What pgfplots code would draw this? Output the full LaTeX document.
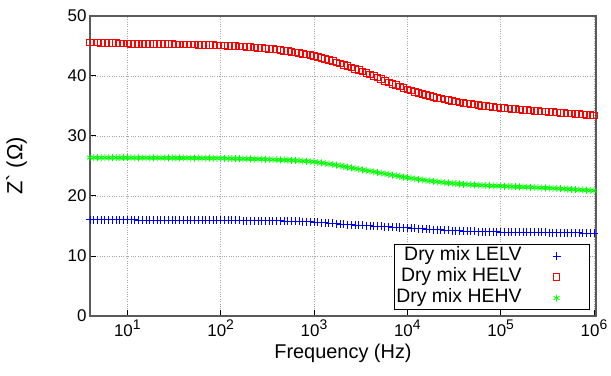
\documentclass[border=0pt]{standalone}
\usepackage{pgfplots}
\pgfplotsset{compat=1.18}
\usepackage{pgfplotstable}
\usepackage{fontspec}
\setmainfont{Liberation Sans}
\definecolor{cblue}{RGB}{0,0,255}
\definecolor{cred}{RGB}{255,0,0}
\definecolor{cgreen}{RGB}{0,255,0}
\definecolor{frame}{RGB}{90,90,90}
\newcommand\pw[1]{10\raisebox{0.45em}{\fontsize{14}{14}\selectfont #1}}

\pgfplotstableread{
f lelv helv hehv
3.9811 16.00 45.60 26.40
4.3652 16.00 45.58 26.40
4.7863 16.00 45.56 26.39
5.2481 16.00 45.54 26.39
5.7544 16.00 45.52 26.39
6.3096 16.00 45.50 26.39
6.9183 16.00 45.48 26.39
7.5858 16.00 45.46 26.39
8.3176 16.00 45.44 26.38
9.1201 16.00 45.42 26.38
10 16.00 45.40 26.38
10.965 16.00 45.39 26.38
12.023 16.00 45.38 26.37
13.183 15.99 45.38 26.37
14.454 15.99 45.37 26.37
15.849 15.99 45.36 26.37
17.378 15.99 45.35 26.36
19.055 15.99 45.34 26.36
20.893 15.98 45.33 26.36
22.909 15.98 45.33 26.36
25.119 15.98 45.32 26.36
27.542 15.98 45.31 26.35
30.200 15.98 45.30 26.35
33.113 15.97 45.29 26.35
36.308 15.97 45.29 26.34
39.811 15.97 45.28 26.34
43.652 15.97 45.26 26.33
47.863 15.97 45.24 26.32
52.481 15.96 45.23 26.32
57.544 15.96 45.21 26.31
63.096 15.96 45.19 26.31
69.183 15.96 45.17 26.30
75.858 15.96 45.15 26.30
83.176 15.95 45.14 26.29
91.201 15.95 45.12 26.29
100 15.95 45.10 26.28
109.65 15.94 45.07 26.27
120.23 15.94 45.04 26.25
131.83 15.93 45.01 26.24
144.54 15.93 44.98 26.23
158.49 15.92 44.95 26.22
173.78 15.91 44.90 26.20
190.55 15.91 44.86 26.19
208.93 15.90 44.81 26.18
229.09 15.90 44.77 26.16
251.19 15.89 44.72 26.15
275.42 15.89 44.66 26.13
302.00 15.88 44.59 26.11
331.13 15.87 44.53 26.09
363.08 15.86 44.46 26.07
398.11 15.85 44.40 26.05
436.52 15.84 44.31 26.02
478.63 15.83 44.22 26.00
524.81 15.82 44.13 25.97
575.44 15.81 44.04 25.95
630.96 15.80 43.95 25.92
691.83 15.77 43.83 25.88
758.58 15.74 43.71 25.83
831.76 15.71 43.59 25.79
912.01 15.68 43.47 25.74
1000 15.65 43.35 25.70
1096.5 15.60 43.18 25.61
1202.3 15.56 43.01 25.52
1318.3 15.51 42.84 25.43
1445.4 15.47 42.67 25.34
1584.9 15.42 42.50 25.25
1737.8 15.38 42.29 25.14
1905.5 15.33 42.08 25.03
2089.3 15.29 41.87 24.92
2290.9 15.24 41.66 24.81
2511.9 15.20 41.45 24.70
2754.2 15.16 41.21 24.59
3020.0 15.13 40.97 24.48
3311.3 15.09 40.73 24.37
3630.8 15.06 40.49 24.26
3981.1 15.02 40.25 24.15
4365.2 14.99 39.99 24.04
4786.3 14.95 39.73 23.93
5248.1 14.92 39.47 23.82
5754.4 14.88 39.21 23.71
6309.6 14.85 38.95 23.60
6918.3 14.82 38.71 23.49
7585.8 14.78 38.47 23.38
8317.6 14.75 38.23 23.27
9120.1 14.71 37.99 23.16
10000 14.68 37.75 23.05
10965 14.64 37.56 22.96
12023 14.60 37.37 22.87
13183 14.56 37.18 22.78
14454 14.52 36.99 22.69
15849 14.48 36.80 22.60
17378 14.44 36.66 22.52
19055 14.41 36.52 22.45
20893 14.37 36.38 22.37
22909 14.34 36.24 22.30
25119 14.30 36.10 22.22
27542 14.27 35.98 22.17
30200 14.24 35.86 22.11
33113 14.21 35.74 22.06
36308 14.18 35.62 22.00
39811 14.15 35.50 21.95
43652 14.13 35.41 21.92
47863 14.11 35.32 21.88
52481 14.09 35.23 21.85
57544 14.07 35.14 21.81
63096 14.05 35.05 21.78
69183 14.04 34.98 21.75
75858 14.03 34.91 21.73
83176 14.02 34.84 21.70
91201 14.01 34.77 21.68
1.0000e5 14.00 34.70 21.65
1.0965e5 13.99 34.64 21.62
1.2023e5 13.99 34.58 21.60
1.3183e5 13.98 34.52 21.57
1.4454e5 13.98 34.46 21.55
1.5849e5 13.97 34.40 21.52
1.7378e5 13.97 34.35 21.50
1.9055e5 13.96 34.30 21.47
2.0893e5 13.95 34.25 21.45
2.2909e5 13.95 34.20 21.42
2.5119e5 13.94 34.15 21.40
2.7542e5 13.93 34.11 21.37
3.0200e5 13.93 34.06 21.34
3.3113e5 13.91 34.02 21.31
3.6308e5 13.91 33.97 21.28
3.9811e5 13.90 33.93 21.25
4.3652e5 13.89 33.88 21.22
4.7863e5 13.88 33.84 21.18
5.2481e5 13.87 33.79 21.15
5.7544e5 13.86 33.75 21.11
6.3096e5 13.85 33.70 21.08
6.9183e5 13.84 33.65 21.04
7.5858e5 13.83 33.60 21.00
8.3176e5 13.82 33.55 20.96
9.1201e5 13.81 33.50 20.92
1.0000e6 13.80 33.45 20.88
}\data

\begin{document}
\begin{tikzpicture}
\useasboundingbox (-90bp,-60bp) rectangle (521bp,316bp);
\begin{axis}[
  at={(0,0)}, anchor=south west,
  scale only axis, width=506bp, height=300bp,
  xmode=log, xmin=3.98, xmax=1.05e6, ymin=0, ymax=50,
  xtick={10,100,1000,10000,100000,1000000},
  xticklabels={\pw{1},\pw{2},\pw{3},\pw{4},\pw{5},\pw{6}},
  ytick={0,10,20,30,40,50},
  xminorticks=false, yminorticks=false,
  grid=major,
  grid style={dotted, color=gray!70, line width=0.8bp},
  tick align=inside, xtick pos=bottom, ytick pos=left,
  major tick length=6bp,
  tick style={black, line width=1bp},
  axis line style={draw=frame, line width=1.5bp},
  /pgf/number format/assume math mode=true,
  ticklabel style={font=\fontsize{17}{17}\selectfont},
  xlabel={Frequency (Hz)},
  ylabel={Z\textasciigrave\ (Ω)},
  xlabel style={font=\fontsize{20}{20}\selectfont},
  ylabel style={font=\fontsize{22}{22}\selectfont},
  ylabel shift=34bp,
  clip=false,
  legend style={at={(rel axis cs:0.988,0.02)}, anchor=south east,
    draw=black, line width=0.8bp, fill=white, inner sep=1bp,
    font=\fontsize{19.5}{20}\selectfont,
    cells={anchor=east}, row sep=0bp, column sep=0bp,
    nodes={inner sep=1bp, text height=14bp, text depth=5bp}},
  legend plot pos=right,
  legend image code/.code={\path[draw=none,fill=none] (0bp,0bp) (66bp,0bp);
    \draw[mark repeat=2,mark phase=2,#1] plot coordinates {(0bp,0bp)(34bp,0bp)(68bp,0bp)};},
]
\addplot[only marks, mark=+, color=cblue, mark size=4bp, line width=1bp] table[x=f,y=lelv]{\data};
\addlegendentry{Dry mix LELV}
\addplot[only marks, mark=square, color=cred, mark size=3.3bp, line width=0.9bp] table[x=f,y=helv]{\data};
\addlegendentry{Dry mix HELV}
\addplot[only marks, mark=asterisk, color=cgreen, mark size=3.5bp, line width=0.8bp] table[x=f,y=hehv]{\data};
\addlegendentry{Dry mix HEHV}
\end{axis}
\end{tikzpicture}
\end{document}
